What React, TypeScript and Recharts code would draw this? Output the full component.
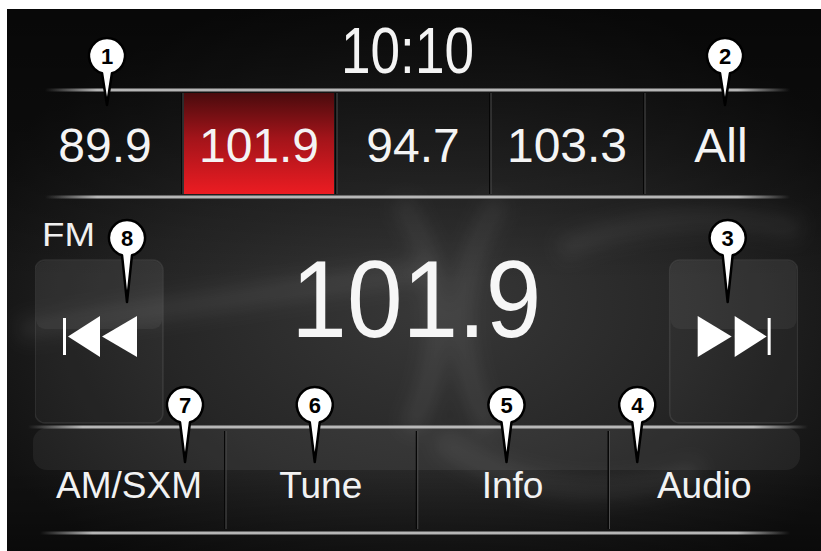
import React from "react";
import { BarChart, Bar, XAxis, YAxis, ComposedChart, Customized } from "recharts";

const FONT = '"Liberation Sans", Arial, Helvetica, sans-serif';

// what the head unit shows
const clockTime = "10:10";
const bandName = "FM";
const currentStation = "101.9";

const presetLabels = ["89.9", "101.9", "94.7", "103.3", "All"];
const presetCallouts = [1, 0, 0, 0, 2];
const activePreset = "101.9";

const transportKeys = ["seekDown", "station", "seekUp"];
const transportCallouts = [8, 0, 3];

const softKeyLabels = ["AM/SXM", "Tune", "Info", "Audio"];
const softKeyCallouts = [7, 6, 5, 4];

// pin nudge from the centre of the key it points at
const calloutShift: Record<number, number> = { 1: 2, 2: 4, 3: -6, 4: -67, 5: -6, 6: -6, 7: 56, 8: 28 };

const presetRows = presetLabels.map((label, i) => ({
  label,
  slot: 1,
  callout: presetCallouts[i],
  active: label === activePreset,
}));
const transportRows = transportKeys.map((label, i) => ({ label, slot: 1, callout: transportCallouts[i] }));
const softKeyRows = softKeyLabels.map((label, i) => ({ label, slot: 1, callout: softKeyCallouts[i] }));

function Callout({ cx, cy, tipY, n }: { cx: number; cy: number; tipY: number; n: number }) {
  const r = 18;
  const a = (16 * Math.PI) / 180;
  const dx = r * Math.sin(a);
  const dy = r * Math.cos(a);
  const d = `M ${cx + dx} ${cy + dy} A ${r} ${r} 0 1 0 ${cx - dx} ${cy + dy} L ${cx} ${tipY} Z`;
  return (
    <g>
      <path d={d} fill="#fff" stroke="#000" strokeWidth={2.5} strokeLinejoin="round" />
      <text x={cx} y={cy + 8} textAnchor="middle" fontFamily={FONT} fontWeight="bold" fontSize={22} fill="#000">
        {n}
      </text>
    </g>
  );
}

function Rule({ x, y, w }: { x: number; y: number; w: number }) {
  return <rect x={x} y={y - 1.5} width={w} height={3} fill="url(#rule)" />;
}

function ScreenBackdrop() {
  return (
    <g>
      <defs>
        <radialGradient id="glow" cx="0.52" cy="0.55" r="0.6">
          <stop offset="0" stopColor="#383838" />
          <stop offset="0.55" stopColor="#262626" />
          <stop offset="1" stopColor="#111" />
        </radialGradient>
        <linearGradient id="topShade" x1="0" y1="0" x2="0" y2="1">
          <stop offset="0" stopColor="#000" stopOpacity={0.55} />
          <stop offset="0.3" stopColor="#000" stopOpacity={0.25} />
          <stop offset="0.5" stopColor="#000" stopOpacity={0} />
          <stop offset="0.85" stopColor="#000" stopOpacity={0} />
          <stop offset="1" stopColor="#000" stopOpacity={0.4} />
        </linearGradient>
        <linearGradient id="rule" x1="0" y1="0" x2="1" y2="0">
          <stop offset="0" stopColor="#c8c8c8" stopOpacity={0} />
          <stop offset="0.07" stopColor="#c8c8c8" stopOpacity={0.9} />
          <stop offset="0.93" stopColor="#c8c8c8" stopOpacity={0.9} />
          <stop offset="1" stopColor="#c8c8c8" stopOpacity={0} />
        </linearGradient>
        <filter id="smoke" x="-30%" y="-30%" width="160%" height="160%">
          <feGaussianBlur stdDeviation="9" />
        </filter>
      </defs>
      <rect x={0} y={0} width={821} height={551} fill="#fff" />
      <rect x={7} y={9} width={814} height={542} fill="url(#glow)" />
      <g filter="url(#smoke)" fill="none" stroke="#fff" strokeOpacity={0.07} strokeWidth={22}>
        <path d="M 20 330 Q 220 300 430 270" />
        <path d="M 400 200 Q 470 310 410 430" />
        <path d="M 500 200 Q 430 310 490 430" />
        <path d="M 440 440 Q 560 520 700 470" />
        <path d="M 560 250 Q 680 200 800 230" />
      </g>
      <rect x={7} y={9} width={814} height={542} fill="url(#topShade)" />
      <text x={407.5} y={73} textAnchor="middle" fontFamily={FONT} fontSize={64} textLength={133} lengthAdjust="spacingAndGlyphs" fill="#f4f4f4">
        {clockTime}
      </text>
      <text x={42} y={246} fontFamily={FONT} fontSize={34} textLength={53} lengthAdjust="spacingAndGlyphs" fill="#f0f0f0">
        {bandName}
      </text>
      <rect x={33} y={428} width={767} height={42} rx={14} fill="#fff" fillOpacity={0.06} />
      <Rule x={45} y={90} w={745} />
      <Rule x={45} y={197} w={745} />
      <Rule x={28} y={427} w={780} />
      <Rule x={40} y={533} w={750} />
    </g>
  );
}

function PresetCell(p: any) {
  const { x, y, width, height, payload, index } = p;
  const cx = x + width / 2;
  return (
    <g>
      {payload.active && (
        <g>
          <defs>
            <linearGradient id="presetRed" x1="0" y1="0" x2="0" y2="1">
              <stop offset="0" stopColor="#4a0b0d" />
              <stop offset="0.45" stopColor="#a3141a" />
              <stop offset="1" stopColor="#ec1c22" />
            </linearGradient>
          </defs>
          <rect x={x + 2} y={y + 3} width={width - 4} height={height - 6} fill="url(#presetRed)" />
        </g>
      )}
      {index < presetLabels.length - 1 && (
        <g>
          <rect x={x + width - 1} y={y + 3} width={1.5} height={height - 6} fill="#060606" />
          <rect x={x + width + 0.5} y={y + 3} width={1} height={height - 6} fill="#4a4a4a" />
        </g>
      )}
      <text x={cx} y={y + 72} textAnchor="middle" fontFamily={FONT} fontSize={48} fill="#f4f4f4">
        {payload.label}
      </text>
      {payload.callout ? (
        <Callout cx={cx + (calloutShift[payload.callout] ?? 0)} cy={y - 34} tipY={y + 15} n={payload.callout} />
      ) : null}
    </g>
  );
}

function TransportCell(p: any) {
  const { x, y, width, height, payload } = p;
  if (payload.label === "station") {
    return (
      <text x={x + width / 2} y={y + 77} textAnchor="middle" fontFamily={FONT} fontSize={110} textLength={250} lengthAdjust="spacingAndGlyphs" fill="#f6f6f6">
        {currentStation}
      </text>
    );
  }
  const bw = 128;
  const down = payload.label === "seekDown";
  const bx = down ? x : x + width - bw;
  const top = y + 56;
  const bot = y + 97;
  const mid = (top + bot) / 2;
  const icon = down ? (
    <g fill="#fff">
      <rect x={bx + 28} y={top + 2} width={3} height={bot - top - 4} />
      <polygon points={`${bx + 33},${mid} ${bx + 65},${top} ${bx + 65},${bot}`} />
      <polygon points={`${bx + 67},${mid} ${bx + 102},${top} ${bx + 102},${bot}`} />
    </g>
  ) : (
    <g fill="#fff">
      <polygon points={`${bx + 28},${top} ${bx + 28},${bot} ${bx + 62},${mid}`} />
      <polygon points={`${bx + 65},${top} ${bx + 65},${bot} ${bx + 97},${mid}`} />
      <rect x={bx + 98} y={top + 2} width={3} height={bot - top - 4} />
    </g>
  );
  return (
    <g>
      <rect x={bx} y={y} width={bw} height={height - 4} rx={10} fill="#fff" fillOpacity={0.035} stroke="#fff" strokeOpacity={0.09} strokeWidth={1.5} />
      <rect x={bx + 1} y={y + 1} width={bw - 2} height={68} rx={9} fill="#fff" fillOpacity={0.05} />
      {icon}
      <Callout cx={bx + bw / 2 + (calloutShift[payload.callout] ?? 0)} cy={y - 22} tipY={y + 42} n={payload.callout} />
    </g>
  );
}

function SoftKeyCell(p: any) {
  const { x, y, width, height, payload, index } = p;
  const cx = x + width / 2;
  return (
    <g>
      {index < softKeyLabels.length - 1 && (
        <g>
          <rect x={x + width - 1} y={y + 4} width={1.5} height={height - 8} fill="#070707" />
          <rect x={x + width + 0.5} y={y + 4} width={1} height={height - 8} fill="#4d4d4d" />
        </g>
      )}
      <text x={cx} y={y + 71} textAnchor="middle" fontFamily={FONT} fontSize={37} fill="#f2f2f2">
        {payload.label}
      </text>
      {payload.callout ? (
        <Callout cx={cx + (calloutShift[payload.callout] ?? 0)} cy={y - 22} tipY={y + 35} n={payload.callout} />
      ) : null}
    </g>
  );
}

function KeyRow({ data, left, top, width, height, padTop, shape }: any) {
  return (
    <div style={{ position: "absolute", left, top }}>
      <BarChart
        width={width}
        height={height}
        data={data}
        margin={{ top: padTop, right: 0, bottom: 0, left: 0 }}
        barCategoryGap={0}
        barGap={0}
      >
        <XAxis dataKey="label" hide />
        <YAxis hide domain={[0, 1]} />
        <Bar dataKey="slot" isAnimationActive={false} shape={shape} />
      </BarChart>
    </div>
  );
}

export default function App() {
  return (
    <div style={{ position: "fixed", left: 0, top: 0, width: 821, height: 551, background: "#fff", overflow: "hidden" }}>
      <div style={{ position: "absolute", left: 0, top: 0 }}>
        <ComposedChart width={821} height={551} data={[{}]} margin={{ top: 0, right: 0, bottom: 0, left: 0 }}>
          <Customized component={<ScreenBackdrop />} />
        </ComposedChart>
      </div>
      <KeyRow data={presetRows} left={28} top={30} width={770} height={167} padTop={60} shape={PresetCell} />
      <KeyRow data={transportRows} left={35} top={215} width={763} height={212} padTop={45} shape={TransportCell} />
      <KeyRow data={softKeyRows} left={33} top={380} width={767} height={153} padTop={47} shape={SoftKeyCell} />
    </div>
  );
}
